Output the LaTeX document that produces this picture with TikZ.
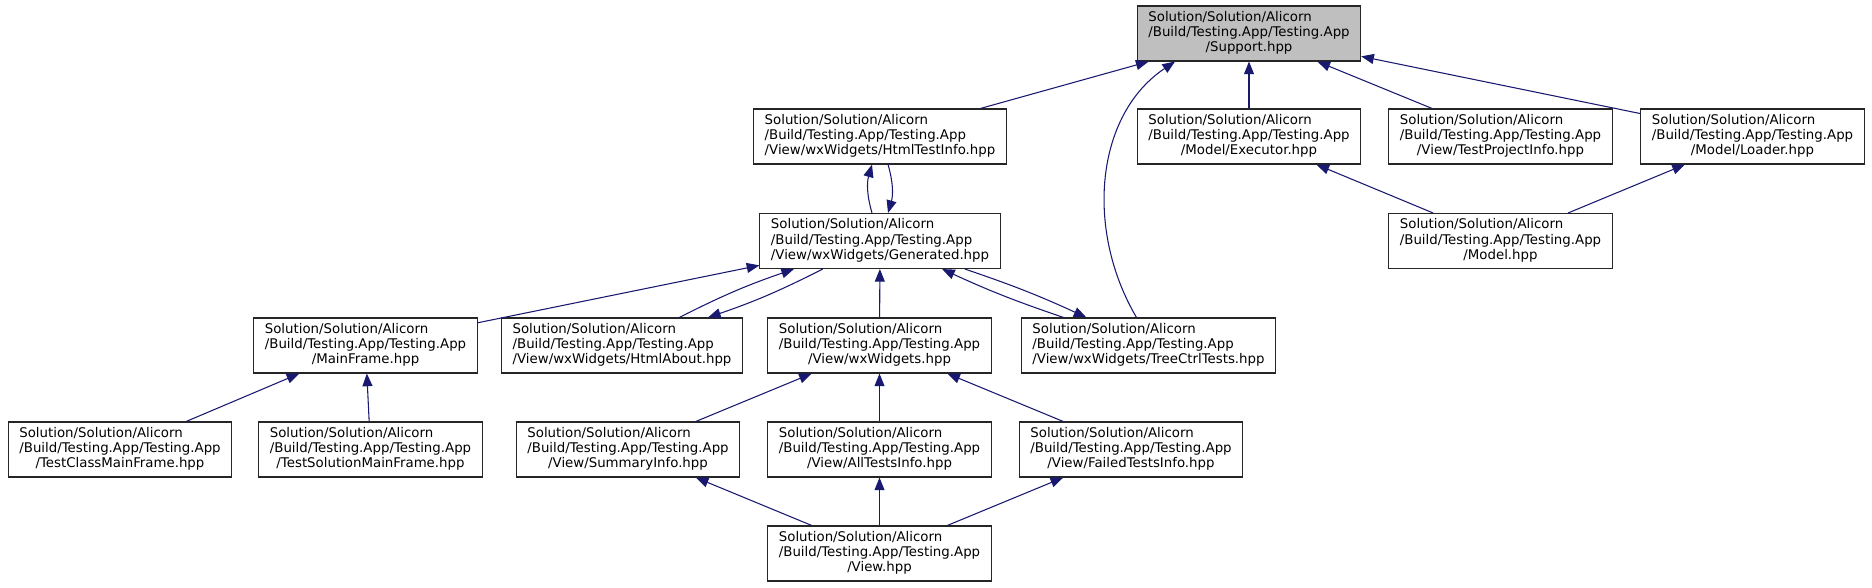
\documentclass[tikz,border=0pt]{standalone}
\usepackage{fontspec}
\setmainfont{DejaVu Sans}
\usepackage{xcolor}
\usepackage{tikz}
\usetikzlibrary{arrows.meta,calc}
\definecolor{edgeblue}{HTML}{191970}
\definecolor{rootgray}{HTML}{BFBFBF}
\newcommand{\hpath}[1]{\begin{tabular}{@{}l@{}}Solution/Solution/Alicorn\\/Build/Testing.App/Testing.App\\\multicolumn{1}{@{}c@{}}{#1}\end{tabular}}

\begin{document}
\begin{tikzpicture}[x=0.75pt,y=-0.75pt,>={Triangle[length=9.5pt,width=7.5pt]},
  incbox/.style={draw=black!85,line width=0.8pt,fill=white,inner xsep=8.25pt,inner ysep=0pt,
    minimum height=41.25pt,font=\fontsize{10}{11.5}\selectfont},
  rootbox/.style={incbox,fill=rootgray},
  dep/.style={->,draw=edgeblue,line width=0.8pt}]
  \useasboundingbox (0,0) rectangle (1872,587);
  % rows, top to bottom
  \node[rootbox] (supp) at (1249,33.5) {\hpath{/Support.hpp}};
  \node[incbox] (htinfo) at (880,136.5) {\hpath{/View/wxWidgets/HtmlTestInfo.hpp}};
  \node[incbox] (exec) at (1249,136.5) {\hpath{/Model/Executor.hpp}};
  \node[incbox] (tpinfo) at (1500.5,136.5) {\hpath{/View/TestProjectInfo.hpp}};
  \node[incbox] (loader) at (1752.5,136.5) {\hpath{/Model/Loader.hpp}};
  \node[incbox] (gen) at (880,241) {\hpath{/View/wxWidgets/Generated.hpp}};
  \node[incbox] (model) at (1500.5,241) {\hpath{/Model.hpp}};
  \node[incbox] (mainfr) at (365.5,345.5) {\hpath{/MainFrame.hpp}};
  \node[incbox] (habout) at (622,345.5) {\hpath{/View/wxWidgets/HtmlAbout.hpp}};
  \node[incbox] (wxw) at (879.5,345.5) {\hpath{/View/wxWidgets.hpp}};
  \node[incbox] (tree) at (1148.5,345.5) {\hpath{/View/wxWidgets/TreeCtrlTests.hpp}};
  \node[incbox] (tcmf) at (120,449.5) {\hpath{/TestClassMainFrame.hpp}};
  \node[incbox] (tsmf) at (370.5,449.5) {\hpath{/TestSolutionMainFrame.hpp}};
  \node[incbox] (summ) at (628,449.5) {\hpath{/View/SummaryInfo.hpp}};
  \node[incbox] (allt) at (879.5,449.5) {\hpath{/View/AllTestsInfo.hpp}};
  \node[incbox] (failt) at (1131,449.5) {\hpath{/View/FailedTestsInfo.hpp}};
  \node[incbox] (view) at (879.5,553.5) {\hpath{/View.hpp}};
  % include edges
  \foreach \a/\b in {htinfo/supp,exec/supp,tpinfo/supp,loader/supp,model/exec,model/loader,
      mainfr/gen,wxw/gen,tcmf/mainfr,tsmf/mainfr,summ/wxw,allt/wxw,failt/wxw,
      view/summ,view/allt,view/failt}
    \draw[dep] (\a) -- (\b);
  \draw[dep] (gen) to[bend left=16] (htinfo);
  \draw[dep] (htinfo) to[bend left=16] (gen);
  \draw[dep] (habout) to[bend left=4] (gen);
  \draw[dep] (gen) to[bend left=4] (habout);
  \draw[dep] (tree) to[bend left=3] (gen);
  \draw[dep] (gen) to[bend left=3] (tree);
  \draw[dep] ($(tree.north)+(-12,0)$) .. controls (1085,230) and (1095,115) .. ($(supp.south)+(-74,0)$);
\end{tikzpicture}
\end{document}
